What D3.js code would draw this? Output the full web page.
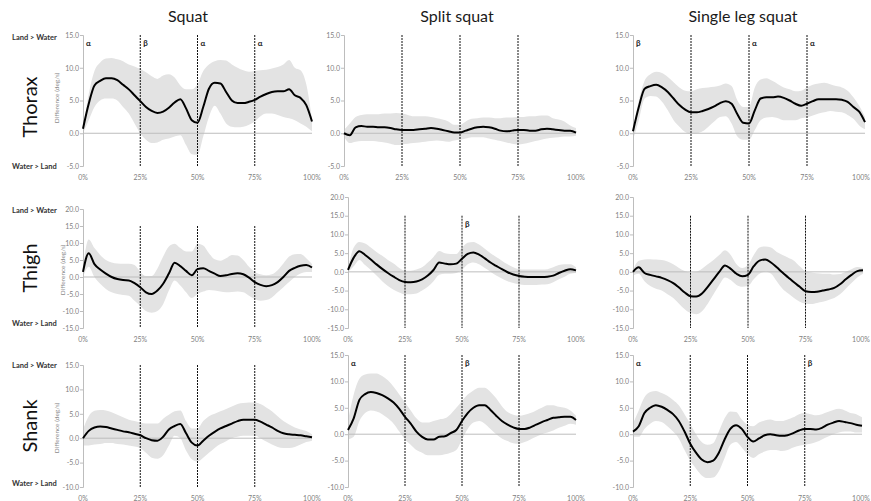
<!DOCTYPE html>
<html>
<head>
<meta charset="utf-8">
<script src="https://cdn.jsdelivr.net/npm/d3@7"></script>
<style>
body{margin:0;background:#fff;}
svg{display:block;font-family:Lato,"Open Sans",sans-serif;}
</style>
</head>
<body>
<div id="chart"></div>
<script>
var W = 871, H = 501;

// x grid: % of movement, every 2.5%
var pct = d3.range(0, 100.01, 2.5);
var xTicks = [0, 25, 50, 75, 100];
var phaseLines = [25, 50, 75];

var exercises = ["Squat", "Split squat", "Single leg squat"];
var segments = ["Thorax", "Thigh", "Shank"];

// Squat - thorax
var sqThoMean  = [0.7,4.5,7.3,8.0,8.4,8.4,8.1,7.4,6.7,5.8,4.9,4.0,3.4,3.1,3.3,3.9,4.7,5.2,3.8,2.0,1.6,4.0,6.8,7.7,7.6,6.3,5.0,4.6,4.6,4.8,5.1,5.6,6.0,6.3,6.4,6.4,6.7,5.8,5.4,4.3,1.8];
var sqThoUpper = [0.8,6.0,9.5,10.8,11.4,11.5,11.3,11.0,10.5,10.2,9.8,9.3,8.7,8.3,8.8,9.0,8.5,7.3,6.7,6.7,7.5,9.5,10.5,11.0,11.2,11.1,10.5,10.0,9.6,9.4,9.5,9.6,9.7,9.9,10.1,10.5,11.2,10.0,9.6,7.5,2.2];
var sqThoLower = [0.0,2.0,4.0,5.0,5.3,5.3,5.0,4.0,3.0,1.5,0.0,-1.0,-1.5,-1.4,-1.0,-0.8,-0.5,-0.3,-1.8,-3.2,-3.3,-0.5,2.5,4.2,3.0,1.5,1.0,0.9,1.0,1.3,1.8,2.6,3.0,3.0,2.8,2.5,2.3,2.0,1.5,1.0,0.3];

// Split squat - thorax
var spThoMean  = [0.0,-0.3,0.9,1.1,1.0,1.0,0.9,0.9,0.8,0.6,0.5,0.5,0.5,0.6,0.7,0.8,0.7,0.5,0.3,0.1,0.1,0.4,0.7,0.9,1.0,0.9,0.7,0.4,0.3,0.4,0.5,0.5,0.4,0.4,0.6,0.7,0.6,0.5,0.4,0.4,0.1];
var spThoUpper = [0.5,1.5,2.5,2.8,2.9,2.9,2.9,3.0,3.0,3.1,3.0,2.8,2.6,2.6,2.6,2.5,2.3,2.1,1.8,1.3,1.3,1.8,2.2,2.3,2.4,2.4,2.3,2.3,2.4,2.4,2.5,2.5,2.6,2.6,2.7,2.7,2.3,2.1,1.8,1.2,0.8];
var spThoLower = [-0.5,-1.5,-1.3,-1.2,-1.2,-1.2,-1.3,-1.4,-1.6,-1.8,-1.7,-1.6,-1.5,-1.4,-1.3,-1.2,-1.1,-1.2,-1.3,-1.1,-1.0,-0.8,-0.6,-0.6,-0.6,-0.8,-1.0,-1.2,-1.4,-1.6,-1.7,-1.6,-1.4,-1.2,-1.0,-0.8,-0.7,-0.6,-0.5,-0.5,-0.4];

// Single leg squat - thorax
var slThoMean  = [0.3,4.0,6.8,7.2,7.4,7.0,6.3,5.3,4.3,3.6,3.2,3.2,3.4,3.7,4.1,4.6,4.9,4.5,2.9,1.6,1.5,3.5,5.3,5.5,5.5,5.6,5.4,5.0,4.5,4.2,4.5,4.9,5.2,5.2,5.2,5.2,5.1,4.8,4.0,3.3,1.7];
var slThoUpper = [0.4,5.0,8.0,9.0,9.4,9.2,8.6,7.8,7.0,6.5,6.4,6.7,6.9,7.0,7.1,7.3,7.6,7.2,5.0,4.0,4.0,7.0,8.2,8.4,8.0,7.5,7.0,6.7,6.4,6.5,7.0,7.4,7.6,7.7,7.5,7.2,7.0,6.5,5.5,4.2,2.5];
var slThoLower = [-1.0,2.0,5.3,5.7,5.6,4.8,3.5,2.0,1.0,0.2,-0.1,0.0,0.3,1.0,1.8,2.5,2.6,1.5,-0.5,-1.0,-1.0,0.5,2.0,2.4,2.5,2.3,2.0,2.0,2.0,2.3,2.4,2.7,3.0,3.2,3.4,3.3,3.2,2.8,2.2,1.2,0.6];

// Squat - thigh
var sqThiMean  = [1.5,7.0,3.8,2.2,1.0,0.0,-0.6,-0.9,-1.0,-1.8,-3.0,-4.5,-5.0,-4.0,-2.0,1.0,4.2,3.2,1.8,0.5,2.3,2.6,1.8,1.0,0.3,0.5,0.9,1.1,0.8,-0.2,-1.5,-2.3,-2.7,-2.4,-1.5,0.0,1.8,2.7,3.3,3.5,2.8];
var sqThiUpper = [3.0,11.0,8.5,6.5,5.0,4.3,4.0,3.9,3.9,3.5,1.5,0.3,0.3,2.5,6.0,9.0,9.8,8.5,7.5,7.5,9.8,9.3,7.0,5.2,4.8,5.5,6.5,6.3,5.0,3.0,1.5,0.8,0.5,0.8,2.0,4.0,6.0,6.7,6.8,5.5,3.8];
var sqThiLower = [0.0,3.0,0.0,-2.0,-3.5,-4.5,-5.0,-5.3,-5.5,-7.0,-8.5,-10.0,-10.5,-10.0,-8.0,-4.0,-1.0,-2.5,-4.5,-6.2,-5.0,-4.3,-3.8,-4.0,-4.3,-4.5,-4.4,-4.3,-4.5,-5.5,-6.5,-7.0,-6.8,-6.0,-4.5,-3.0,-1.5,0.0,1.0,1.5,1.5];

// Split squat - thigh
var spThiMean  = [0.5,3.8,5.5,4.5,3.3,2.0,0.8,-0.3,-1.3,-2.2,-2.7,-2.8,-2.6,-2.0,-1.0,0.5,2.5,2.2,2.0,2.2,3.5,4.8,5.2,4.6,3.6,2.5,1.6,0.7,-0.1,-0.7,-1.1,-1.3,-1.4,-1.4,-1.4,-1.3,-1.0,-0.3,0.3,0.7,0.4];
var spThiUpper = [1.0,6.5,8.0,7.6,6.5,5.3,4.3,3.2,2.2,1.0,0.3,0.3,0.6,1.2,2.5,4.0,5.6,5.0,4.8,4.8,6.5,7.8,8.0,7.3,6.2,5.0,4.0,3.0,2.0,1.2,0.7,0.6,0.6,0.6,0.6,0.7,1.2,1.8,2.0,2.0,1.2];
var spThiLower = [0.0,1.5,3.2,1.8,0.5,-1.0,-2.5,-3.8,-4.8,-5.5,-6.0,-6.0,-5.8,-5.0,-4.0,-2.5,-0.8,-0.5,-0.5,-0.3,0.5,2.0,2.5,2.0,1.0,0.0,-1.0,-1.8,-2.5,-3.0,-3.3,-3.5,-3.5,-3.5,-3.4,-3.3,-2.8,-2.0,-1.3,-0.5,-0.3];

// Single leg squat - thigh
var slThiMean  = [0.0,1.2,-0.3,-0.8,-1.2,-1.6,-2.2,-3.0,-4.2,-5.5,-6.5,-6.6,-5.8,-4.0,-2.0,0.0,1.7,0.8,-0.5,-1.2,-0.8,1.5,3.0,3.3,2.5,1.2,-0.2,-1.5,-2.8,-4.0,-5.2,-5.4,-5.3,-5.0,-4.7,-4.3,-3.3,-2.0,-0.8,0.2,0.4];
var slThiUpper = [0.5,3.0,3.3,3.4,3.3,3.2,2.8,2.0,1.0,0.2,-0.2,0.0,0.8,2.0,3.2,4.5,5.8,4.5,2.0,1.0,1.8,4.5,6.5,6.8,6.5,5.3,4.5,3.8,3.0,1.5,0.2,-0.2,-0.4,-0.5,-0.5,-0.7,-0.6,0.0,0.7,1.3,1.0];
var slThiLower = [-1.0,-0.5,-2.5,-3.8,-4.5,-5.0,-6.0,-7.0,-8.5,-10.0,-11.0,-11.3,-10.5,-8.5,-6.0,-3.5,-1.5,-2.2,-3.5,-4.0,-3.8,-2.0,-0.5,0.0,-0.5,-2.5,-4.5,-5.8,-7.0,-8.0,-8.5,-8.6,-8.3,-8.0,-7.5,-7.0,-6.0,-4.5,-3.0,-1.5,-0.5];

// Squat - shank
var sqShaMean  = [0.0,1.5,2.2,2.4,2.3,2.0,1.7,1.4,1.2,0.9,0.6,0.0,-0.4,-0.5,0.3,1.8,2.5,2.9,1.0,-0.9,-1.5,-0.5,0.5,1.3,2.0,2.5,3.0,3.5,3.8,3.8,3.8,3.4,2.8,2.2,1.5,1.0,0.8,0.7,0.6,0.4,0.2];
var sqShaUpper = [1.8,4.5,5.6,5.8,5.7,5.3,4.8,4.3,3.8,3.5,3.2,3.0,3.0,3.0,4.0,4.8,5.5,5.7,3.5,2.0,2.0,3.5,4.5,5.0,5.5,6.0,6.5,7.0,7.2,7.3,7.3,7.0,6.3,5.5,4.5,3.5,2.8,2.2,1.8,1.5,0.8];
var sqShaLower = [-1.5,-1.5,-1.3,-1.2,-1.0,-1.0,-1.2,-1.3,-1.5,-1.7,-2.0,-3.0,-4.0,-4.2,-3.5,-1.5,0.5,0.0,-2.5,-4.3,-4.8,-4.0,-3.0,-2.0,-1.2,-0.6,0.0,0.3,0.5,0.5,0.5,0.0,-0.7,-1.3,-1.8,-2.0,-2.0,-1.8,-1.3,-0.8,-0.5];

// Split squat - shank
var spShaMean  = [0.8,3.0,6.5,7.6,8.0,7.8,7.4,6.8,6.0,4.8,3.3,2.0,0.5,-0.5,-1.0,-1.0,-0.5,-0.4,0.2,0.8,2.5,4.0,5.0,5.5,5.5,4.6,3.5,2.5,1.8,1.3,1.0,1.0,1.3,1.8,2.3,2.7,3.1,3.2,3.3,3.3,2.7];
var spShaUpper = [2.5,7.5,10.5,11.3,11.5,11.5,11.0,10.2,9.0,7.5,6.0,4.5,3.0,2.2,2.2,2.5,2.8,3.0,3.8,5.0,6.3,7.5,8.3,8.8,8.8,8.0,6.8,5.3,4.2,3.7,3.5,3.7,4.0,4.5,5.0,5.5,5.5,5.2,5.0,4.5,3.5];
var spShaLower = [-1.0,-0.5,2.5,4.0,4.5,4.3,3.8,3.0,2.0,0.5,-1.0,-2.0,-3.0,-3.5,-4.0,-4.0,-4.0,-3.8,-3.5,-3.0,-1.0,1.0,2.2,2.5,2.0,1.0,0.0,-0.8,-1.3,-1.7,-1.8,-1.5,-1.0,-0.5,0.0,0.3,0.7,1.2,1.6,2.0,1.8];

// Single leg squat - shank
var slShaMean  = [0.5,1.5,4.0,5.0,5.5,5.2,4.6,3.8,2.5,0.5,-1.8,-3.5,-4.8,-5.3,-5.0,-3.5,-1.0,1.0,1.7,1.0,-0.5,-1.4,-0.8,-0.2,0.0,-0.2,-0.3,-0.2,0.2,0.7,1.0,1.0,0.9,1.2,1.8,2.2,2.5,2.3,2.1,1.8,1.6];
var slShaUpper = [2.0,4.5,7.0,8.0,8.2,7.8,7.3,6.5,5.5,3.8,2.0,0.0,-1.5,-2.0,-1.7,0.5,3.0,4.3,4.2,2.8,1.8,1.5,2.2,2.6,2.8,2.5,2.5,2.8,3.2,3.8,4.0,3.8,3.6,3.8,4.2,4.6,4.8,4.5,4.0,3.8,3.2];
var slShaLower = [-0.5,-0.5,1.0,2.0,2.5,2.3,1.5,0.5,-0.8,-3.0,-5.0,-6.5,-7.8,-8.3,-8.2,-7.0,-4.5,-2.0,-1.5,-2.5,-3.8,-4.5,-3.8,-3.3,-3.0,-3.0,-3.2,-3.0,-2.5,-2.2,-2.0,-1.8,-1.5,-1.0,-0.5,0.0,0.3,0.5,0.5,0.3,0.3];

// phase significance markers [phase %, letter]
var sqThoMarks = [[0,"α"],[25,"β"],[50,"α"],[75,"α"]];
var slThoMarks = [[0,"β"],[50,"α"],[75,"α"]];
var spThiMarks = [[50,"β"]];
var spShaMarks = [[0,"α"],[50,"β"]];
var slShaMarks = [[0,"α"],[75,"β"]];

var panels = [
	{row:0, mean:sqThoMean, upper:sqThoUpper, lower:sqThoLower, marks:sqThoMarks, x0:83, x1:312, top:35, bottom:166, dom:[-5,15]},
	{row:0, mean:spThoMean, upper:spThoUpper, lower:spThoLower, marks:[], x0:344, x1:576, top:35, bottom:166, dom:[-5,15]},
	{row:0, mean:slThoMean, upper:slThoUpper, lower:slThoLower, marks:slThoMarks, x0:633, x1:865, top:35, bottom:166, dom:[-5,15]},
	{row:1, mean:sqThiMean, upper:sqThiUpper, lower:sqThiLower, marks:[], x0:83, x1:312, top:209, bottom:328, dom:[-15,20]},
	{row:1, mean:spThiMean, upper:spThiUpper, lower:spThiLower, marks:spThiMarks, x0:348, x1:576, top:197, bottom:328, dom:[-15,20]},
	{row:1, mean:slThiMean, upper:slThiUpper, lower:slThiLower, marks:[], x0:633, x1:863, top:197, bottom:328, dom:[-15,20]},
	{row:2, mean:sqShaMean, upper:sqShaUpper, lower:sqShaLower, marks:[], x0:83, x1:312, top:365, bottom:487, dom:[-10,15]},
	{row:2, mean:spShaMean, upper:spShaUpper, lower:spShaLower, marks:spShaMarks, x0:348, x1:576, top:355, bottom:487, dom:[-10,15]},
	{row:2, mean:slShaMean, upper:slShaUpper, lower:slShaLower, marks:slShaMarks, x0:633, x1:862, top:355, bottom:487, dom:[-10,15]}
];

var svg = d3.select('#chart').append('svg')
	.attr('width', W)
	.attr('height', H);

// column titles
var titleX = [188, 457, 743];
svg.selectAll('.title')
	.data(exercises)
	.enter()
	.append('text')
	.attr('class','title')
	.attr('x', function(d,i){ return titleX[i]; })
	.attr('y', 22)
	.attr('text-anchor','middle')
	.style('font-size','16px')
	.style('fill','#1a1a1a')
	.text(function(d){ return d; });

// row labels
var rowY = [107, 268, 426],
	diffX = [57, 63, 57],
	diffY = [98, 270, 428],
	landY = [37, 210, 365],
	waterY = [166, 323, 483];

segments.forEach(function(s,i){
	svg.append('text')
		.attr('transform','translate(37,'+rowY[i]+') rotate(-90)')
		.attr('text-anchor','middle')
		.style('font-size','20px')
		.style('fill','#111')
		.text(s);
	svg.append('text')
		.attr('transform','translate('+(diffX[i]+2)+','+diffY[i]+') rotate(-90)')
		.attr('text-anchor','middle')
		.style('font-size','6.5px')
		.style('fill','#8c8c8c')
		.text('Difference (deg/s)');
	svg.append('text')
		.attr('x', 12).attr('y', landY[i]+3)
		.style('font-size','7.5px').style('font-weight','bold').style('fill','#333')
		.text('Land > Water');
	svg.append('text')
		.attr('x', 12).attr('y', waterY[i]+3)
		.style('font-size','7.5px').style('font-weight','bold').style('fill','#333')
		.text('Water > Land');
});

panels.forEach(function(p){
	var x = d3.scaleLinear().domain([0,100]).range([p.x0, p.x1]);
	var y = d3.scaleLinear().domain(p.dom).range([p.bottom, p.top]);
	var g = svg.append('g').attr('class','panel');

	var rows = pct.map(function(v,i){ return {p:v, m:p.mean[i], u:p.upper[i], l:p.lower[i]}; });

	var area = d3.area()
		.x(function(d){ return x(d.p); })
		.y0(function(d){ return y(d.l); })
		.y1(function(d){ return y(d.u); })
		.curve(d3.curveMonotoneX);

	g.append('path')
		.datum(rows)
		.attr('d', area)
		.style('fill','#e3e3e3');

	// zero line
	g.append('line')
		.attr('x1', x(0)).attr('x2', x(100))
		.attr('y1', y(0)).attr('y2', y(0))
		.style('stroke','#bdbdbd').style('stroke-width',1);

	// y axis
	var yAxis = d3.axisLeft(y)
		.tickValues(d3.range(p.dom[0], p.dom[1]+0.1, 5))
		.tickSize(3)
		.tickFormat(function(d){ return d.toFixed(1); });
	var ya = g.append('g')
		.attr('transform','translate('+p.x0+',0)')
		.call(yAxis);
	ya.select('.domain').style('stroke','#bdbdbd');
	ya.selectAll('.tick line').style('stroke','#bdbdbd');
	ya.selectAll('.tick text')
		.attr('x', -4)
		.style('font-size','7px')
		.style('fill','#7f7f7f')
		.style('font-family','Lato, "Open Sans", sans-serif');

	// x tick labels at the bottom (kept inside the page)
	g.selectAll('.xlab')
		.data(xTicks)
		.enter()
		.append('text')
		.attr('x', function(d){ return Math.min(x(d), W - 10); })
		.attr('y', p.bottom + 14)
		.attr('text-anchor','middle')
		.style('font-size','7px')
		.style('fill','#7f7f7f')
		.text(function(d){ return d + '%'; });

	// phase lines
	g.selectAll('.phase')
		.data(phaseLines)
		.enter()
		.append('line')
		.attr('x1', function(d){ return x(d); })
		.attr('x2', function(d){ return x(d); })
		.attr('y1', y(15))
		.attr('y2', p.bottom)
		.style('stroke','#111')
		.style('stroke-width',1)
		.style('stroke-dasharray','2,1');

	// mean line
	var line = d3.line()
		.x(function(d){ return x(d.p); })
		.y(function(d){ return y(d.m); })
		.curve(d3.curveMonotoneX);

	g.append('path')
		.datum(rows)
		.attr('d', line)
		.style('fill','none')
		.style('stroke','#000')
		.style('stroke-width',2);

	// significance letters
	g.selectAll('.mark')
		.data(p.marks)
		.enter()
		.append('text')
		.attr('x', function(d){ return x(d[0]) + 3; })
		.attr('y', y(15) + 11)
		.style('font-size','8px')
		.style('font-weight','bold')
		.style('fill','#222')
		.text(function(d){ return d[1]; });
});
</script>
</body>
</html>
